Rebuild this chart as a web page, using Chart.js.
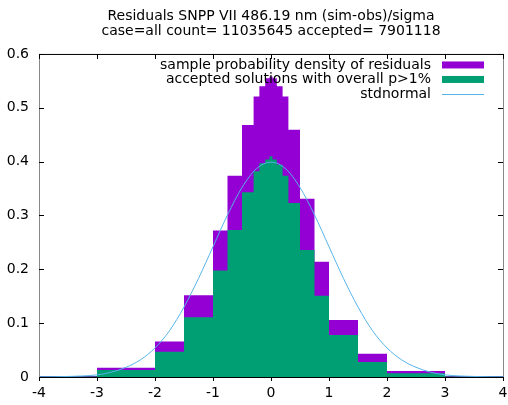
<!DOCTYPE html>
<html>
<head>
<meta charset="utf-8">
<script src="https://cdn.jsdelivr.net/npm/chart.js@4"></script>
<style>
body { margin: 0; background: #fff; }
</style>
</head>
<body>
<canvas id="resChart" width="508" height="405"></canvas>
<script>
// histogram bin edges (variable width, like the original)
const binEdges = [-4, -3, -2, -1.5, -1, -0.75, -0.5, -0.3, -0.2, -0.1, -0.025, 0.025, 0.1, 0.2, 0.3, 0.5, 0.75, 1, 1.5, 2, 3, 4];
// sample probability density of residuals
const sampleDensity = [0.002, 0.017, 0.066, 0.152, 0.272, 0.374, 0.468, 0.521, 0.540, 0.555, 0.558, 0.555, 0.540, 0.521, 0.459, 0.331, 0.214, 0.106, 0.043, 0.011, 0.002];
// accepted solutions with overall p>1%
const acceptedDensity = [0.001, 0.013, 0.047, 0.111, 0.198, 0.273, 0.343, 0.382, 0.397, 0.404, 0.410, 0.404, 0.394, 0.374, 0.323, 0.236, 0.151, 0.078, 0.028, 0.007, 0.001];
// stdnormal curve
const normalX = [-4, -3.5, -3, -2.75, -2.5, -2.25, -2, -1.75, -1.5, -1.25, -1, -0.75, -0.5, -0.25, 0, 0.25, 0.5, 0.75, 1, 1.25, 1.5, 1.75, 2, 2.25, 2.5, 2.75, 3, 3.5, 4];
const normalY = [0.000, 0.001, 0.004, 0.009, 0.018, 0.032, 0.054, 0.086, 0.130, 0.183, 0.242, 0.301, 0.352, 0.387, 0.399, 0.387, 0.352, 0.301, 0.242, 0.183, 0.130, 0.086, 0.054, 0.032, 0.018, 0.009, 0.004, 0.001, 0.000];

const labels = ['sample probability density of residuals', 'accepted solutions with overall p>1%', 'stdnormal'];
const colors = ['#9400d3', '#009e73', '#56b4e9'];
const titleLines = ['Residuals SNPP VII 486.19 nm (sim-obs)/sigma', 'case=all count= 11035645 accepted= 7901118'];

function stepPoints(vals) {
  let pts = vals.map((v, i) => ({x: binEdges[i], y: v}));
  pts.push({x: binEdges[binEdges.length - 1], y: vals[vals.length - 1]});
  return pts;
}

const FONT = 'DejaVu Sans';
const FSIZE = 14;

// gnuplot style frame, inward ticks and legend
const framePlugin = {
  id: 'frame',
  afterDatasetsDraw(chart) {
    const ctx = chart.ctx;
    const a = chart.chartArea;
    const xs = chart.scales.x, ys = chart.scales.y;
    ctx.save();
    ctx.lineWidth = 1;
    // frame
    ctx.strokeStyle = '#000';
    ctx.beginPath();
    ctx.moveTo(a.left, a.top + 0.5); ctx.lineTo(a.right, a.top + 0.5);
    ctx.moveTo(a.left, a.bottom + 0.5); ctx.lineTo(a.right, a.bottom + 0.5);
    ctx.stroke();
    ctx.strokeStyle = '#888';
    ctx.beginPath();
    ctx.moveTo(a.left + 0.5, a.top); ctx.lineTo(a.left + 0.5, a.bottom);
    ctx.moveTo(a.right + 0.5, a.top); ctx.lineTo(a.right + 0.5, a.bottom);
    ctx.stroke();
    // inward ticks
    ctx.strokeStyle = '#000';
    ctx.beginPath();
    xs.ticks.forEach(t => {
      const px = Math.round(xs.getPixelForValue(t.value)) + 0.5;
      ctx.moveTo(px, a.top); ctx.lineTo(px, a.top + 5);
    });
    ys.ticks.forEach(t => {
      const py = Math.round(ys.getPixelForValue(t.value)) + 0.5;
      ctx.moveTo(a.left, py); ctx.lineTo(a.left + 5, py);
      ctx.moveTo(a.right, py); ctx.lineTo(a.right - 5, py);
    });
    ctx.stroke();
    // legend
    ctx.font = FSIZE + 'px "' + FONT + '"';
    ctx.textAlign = 'right';
    ctx.textBaseline = 'middle';
    const textRight = a.right - 72;
    const boxL = a.right - 61, boxR = a.right - 19;
    labels.forEach((lab, i) => {
      const y = a.top + 11 + i * 14.5;
      ctx.fillStyle = '#000';
      ctx.fillText(lab, textRight, y);
      if (i < 2) {
        ctx.fillStyle = colors[i];
        ctx.fillRect(boxL, y - 3.5, boxR - boxL, 7);
      } else {
        ctx.strokeStyle = colors[i];
        ctx.beginPath();
        ctx.moveTo(boxL, Math.round(y) + 0.5); ctx.lineTo(boxR, Math.round(y) + 0.5);
        ctx.stroke();
      }
    });
    ctx.restore();
  }
};

new Chart(document.getElementById('resChart'), {
  type: 'line',
  data: {
    datasets: [
      {
        label: labels[0],
        data: stepPoints(sampleDensity),
        stepped: true,
        borderWidth: 0,
        borderColor: colors[0],
        backgroundColor: colors[0],
        fill: 'origin',
        pointRadius: 0,
        order: 3
      },
      {
        label: labels[1],
        data: stepPoints(acceptedDensity),
        stepped: true,
        borderWidth: 0,
        borderColor: colors[1],
        backgroundColor: colors[1],
        fill: 'origin',
        pointRadius: 0,
        order: 2
      },
      {
        label: labels[2],
        data: normalX.map((x, i) => ({x: x, y: normalY[i]})),
        borderColor: colors[2],
        borderWidth: 1,
        cubicInterpolationMode: 'monotone',
        fill: false,
        pointRadius: 0,
        order: 1
      }
    ]
  },
  options: {
    responsive: false,
    animation: false,
    layout: { padding: { left: 0, right: 0, top: 0, bottom: 0 } },
    plugins: {
      legend: { display: false },
      tooltip: { enabled: false },
      title: {
        display: true,
        text: titleLines,
        fullSize: false,
        color: '#000',
        font: { family: FONT, size: FSIZE, weight: 'normal', lineHeight: 1.07 },
        padding: { top: 8.5, bottom: 15.5 }
      }
    },
    scales: {
      x: {
        type: 'linear',
        min: -4,
        max: 4,
        ticks: { stepSize: 1, color: '#000', font: { family: FONT, size: FSIZE }, padding: 4 },
        grid: { drawOnChartArea: false, drawTicks: true, tickLength: 4, color: '#000' },
        border: { display: false },
        afterFit(scale) {
          scale.height = 28;
          scale.paddingRight = 5;
        }
      },
      y: {
        min: 0,
        max: 0.6,
        ticks: { stepSize: 0.1, color: '#000', font: { family: FONT, size: FSIZE }, padding: 10 },
        grid: { drawOnChartArea: false, drawTicks: false },
        border: { display: false },
        afterFit(scale) { scale.width = 39; }
      }
    }
  },
  plugins: [framePlugin]
});
</script>
</body>
</html>
